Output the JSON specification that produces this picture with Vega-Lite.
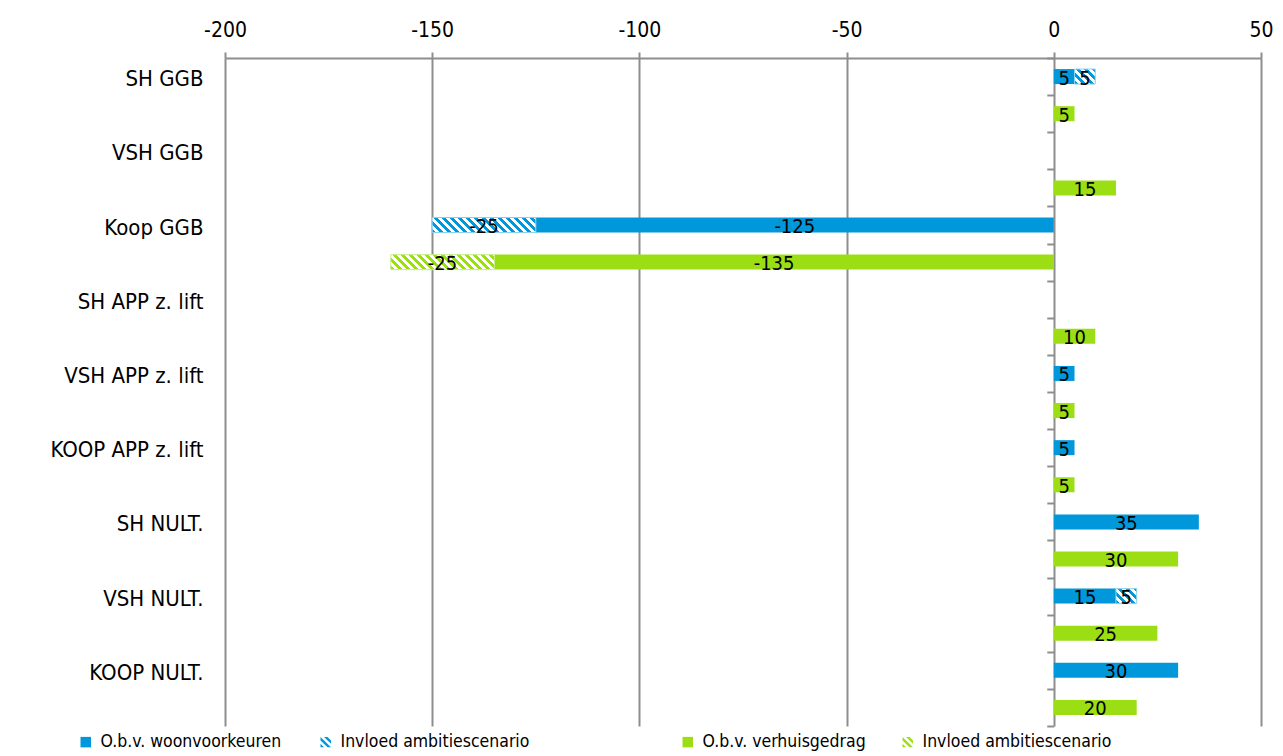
{
  "$schema": "https://vega.github.io/schema/vega-lite/v6.json",
  "width": 1036,
  "height": 668,
  "autosize": "none",
  "padding": {"left": 225, "top": 58, "right": 22, "bottom": 30},
  "background": "white",
  "config": {
    "font": "DejaVu Sans Condensed, Liberation Sans Narrow, sans-serif",
    "view": {"stroke": null}
  },
  "data": {
    "values": [
      {"rij": "SH GGB|W", "groep": "W", "deel": "basis", "reeks": "O.b.v. woonvoorkeuren", "waarde": 5},
      {"rij": "SH GGB|W", "groep": "W", "deel": "invloed", "reeks": "Invloed ambitiescenario", "waarde": 5},
      {"rij": "SH GGB|V", "groep": "V", "deel": "basis", "reeks": "O.b.v. verhuisgedrag", "waarde": 5},
      {"rij": "VSH GGB|V", "groep": "V", "deel": "basis", "reeks": "O.b.v. verhuisgedrag", "waarde": 15},
      {"rij": "Koop GGB|W", "groep": "W", "deel": "basis", "reeks": "O.b.v. woonvoorkeuren", "waarde": -125},
      {"rij": "Koop GGB|W", "groep": "W", "deel": "invloed", "reeks": "Invloed ambitiescenario", "waarde": -25},
      {"rij": "Koop GGB|V", "groep": "V", "deel": "basis", "reeks": "O.b.v. verhuisgedrag", "waarde": -135},
      {"rij": "Koop GGB|V", "groep": "V", "deel": "invloed", "reeks": "Invloed ambitiescenario", "waarde": -25},
      {"rij": "SH APP z. lift|V", "groep": "V", "deel": "basis", "reeks": "O.b.v. verhuisgedrag", "waarde": 10},
      {"rij": "VSH APP z. lift|W", "groep": "W", "deel": "basis", "reeks": "O.b.v. woonvoorkeuren", "waarde": 5},
      {"rij": "VSH APP z. lift|V", "groep": "V", "deel": "basis", "reeks": "O.b.v. verhuisgedrag", "waarde": 5},
      {"rij": "KOOP APP z. lift|W", "groep": "W", "deel": "basis", "reeks": "O.b.v. woonvoorkeuren", "waarde": 5},
      {"rij": "KOOP APP z. lift|V", "groep": "V", "deel": "basis", "reeks": "O.b.v. verhuisgedrag", "waarde": 5},
      {"rij": "SH NULT.|W", "groep": "W", "deel": "basis", "reeks": "O.b.v. woonvoorkeuren", "waarde": 35},
      {"rij": "SH NULT.|V", "groep": "V", "deel": "basis", "reeks": "O.b.v. verhuisgedrag", "waarde": 30},
      {"rij": "VSH NULT.|W", "groep": "W", "deel": "basis", "reeks": "O.b.v. woonvoorkeuren", "waarde": 15},
      {"rij": "VSH NULT.|W", "groep": "W", "deel": "invloed", "reeks": "Invloed ambitiescenario", "waarde": 5},
      {"rij": "VSH NULT.|V", "groep": "V", "deel": "basis", "reeks": "O.b.v. verhuisgedrag", "waarde": 25},
      {"rij": "KOOP NULT.|W", "groep": "W", "deel": "basis", "reeks": "O.b.v. woonvoorkeuren", "waarde": 30},
      {"rij": "KOOP NULT.|V", "groep": "V", "deel": "basis", "reeks": "O.b.v. verhuisgedrag", "waarde": 20}
    ]
  },
  "transform": [
    {"stack": "waarde", "groupby": ["rij"], "sort": [{"field": "deel", "order": "ascending"}], "as": ["x0", "x1"]}
  ],
  "encoding": {
    "x": {
      "field": "x0",
      "type": "quantitative",
      "scale": {"domain": [-200, 50], "nice": false, "zero": false},
      "axis": {
        "orient": "top",
        "values": [-200, -150, -100, -50, 0, 50],
        "labelExpr": "'' + datum.value",
        "title": null,
        "grid": true,
        "gridColor": "#8e8e8e",
        "gridWidth": 2,
        "domain": true,
        "domainColor": "#8e8e8e",
        "domainWidth": 2,
        "ticks": true,
        "tickColor": "#8e8e8e",
        "tickWidth": 2,
        "tickSize": 6,
        "labelFontSize": 21,
        "labelColor": "#000000",
        "labelPadding": 12,
        "labelFlush": false,
        "labelOverlap": false
      }
    },
    "x2": {"field": "x1"},
    "y": {
      "field": "rij",
      "type": "nominal",
      "scale": {
        "domain": [
          "SH GGB|W", "SH GGB|V", "VSH GGB|W", "VSH GGB|V", "Koop GGB|W", "Koop GGB|V",
          "SH APP z. lift|W", "SH APP z. lift|V", "VSH APP z. lift|W", "VSH APP z. lift|V",
          "KOOP APP z. lift|W", "KOOP APP z. lift|V", "SH NULT.|W", "SH NULT.|V",
          "VSH NULT.|W", "VSH NULT.|V", "KOOP NULT.|W", "KOOP NULT.|V"
        ],
        "paddingInner": 0,
        "paddingOuter": 0
      },
      "axis": {
        "orient": "left",
        "offset": -828.8,
        "title": null,
        "grid": false,
        "domain": false,
        "ticks": true,
        "tickBand": "extent",
        "tickColor": "#8e8e8e",
        "tickWidth": 2,
        "tickSize": 7,
        "labelPadding": 843.8,
        "labelFontSize": 22,
        "labelColor": "#000000",
        "labelOffset": 2,
        "labelLimit": 400,
        "labelExpr": "split(datum.value, '|')[1] == 'W' ? split(datum.value, '|')[0] : ''"
      }
    }
  },
  "layer": [
    {
      "transform": [{"filter": "datum.groep == 'W' && datum.deel == 'basis'"}],
      "mark": {"type": "bar", "size": 15},
      "encoding": {
        "color": {
          "field": "reeks",
          "type": "nominal",
          "scale": {"domain": ["O.b.v. woonvoorkeuren", "Invloed ambitiescenario"], "range": ["#0098da", "#0098da"]},
          "legend": {
            "orient": "none",
            "legendX": -148,
            "legendY": 675,
            "direction": "horizontal",
            "columns": 2,
            "columnPadding": 35,
            "padding": 0,
            "title": null,
            "symbolType": "square",
            "symbolSize": 110,
            "symbolStrokeWidth": 0,
            "labelFontSize": 17.5,
            "labelColor": "#000000",
            "labelOffset": 6,
            "labelLimit": 400,
            "encode": {
              "symbols": {
                "update": {
                  "shape": {"signal": "datum.value == 'Invloed ambitiescenario' ? 'M-1,1L-1,0.333L-0.333,1Z M-1,-0.333L-1,-1L1,1L0.333,1Z M-0.333,-1L0.333,-1L1,-0.333L1,0.333Z' : 'square'"}
                }
              }
            }
          }
        }
      }
    },
    {
      "transform": [{"filter": "datum.groep == 'V' && datum.deel == 'basis'"}],
      "mark": {"type": "bar", "size": 15},
      "encoding": {
        "color": {
          "field": "reeks",
          "type": "nominal",
          "scale": {"domain": ["O.b.v. verhuisgedrag", "Invloed ambitiescenario"], "range": ["#9bde14", "#9bde14"]},
          "legend": {
            "orient": "none",
            "legendX": 454,
            "legendY": 675,
            "direction": "horizontal",
            "columns": 2,
            "columnPadding": 33,
            "padding": 0,
            "title": null,
            "symbolType": "square",
            "symbolSize": 110,
            "symbolStrokeWidth": 0,
            "labelFontSize": 17.5,
            "labelColor": "#000000",
            "labelOffset": 6,
            "labelLimit": 400,
            "encode": {
              "symbols": {
                "update": {
                  "shape": {"signal": "datum.value == 'Invloed ambitiescenario' ? 'M-1,1L-1,0.333L-0.333,1Z M-1,-0.333L-1,-1L1,1L0.333,1Z M-0.333,-1L0.333,-1L1,-0.333L1,0.333Z' : 'square'"}
                }
              }
            }
          }
        }
      }
    },
    {
      "transform": [{"filter": "datum.groep == 'W' && datum.deel == 'invloed' && datum.waarde > 0"}],
      "mark": {
        "type": "bar",
        "size": 15,
        "stroke": "#8fd0f0",
        "strokeWidth": 1,
        "fill": {
          "gradient": "linear", "x1": 0, "y1": 1, "x2": 1.13, "y2": 0.179,
          "stops": [
            {"offset": 0, "color": "#0098da"}, {"offset": 0.1122, "color": "#0098da"},
            {"offset": 0.1122, "color": "#ffffff"}, {"offset": 0.2244, "color": "#ffffff"},
            {"offset": 0.2244, "color": "#0098da"}, {"offset": 0.3366, "color": "#0098da"},
            {"offset": 0.3366, "color": "#ffffff"}, {"offset": 0.4487, "color": "#ffffff"},
            {"offset": 0.4487, "color": "#0098da"}, {"offset": 0.5609, "color": "#0098da"},
            {"offset": 0.5609, "color": "#ffffff"}, {"offset": 0.6731, "color": "#ffffff"},
            {"offset": 0.6731, "color": "#0098da"}, {"offset": 0.7853, "color": "#0098da"},
            {"offset": 0.7853, "color": "#ffffff"}, {"offset": 0.8975, "color": "#ffffff"},
            {"offset": 0.8975, "color": "#0098da"}, {"offset": 1, "color": "#0098da"}
          ]
        }
      }
    },
    {
      "transform": [{"filter": "datum.groep == 'W' && datum.deel == 'invloed' && datum.waarde < 0"}],
      "mark": {
        "type": "bar",
        "size": 15,
        "stroke": "#8fd0f0",
        "strokeWidth": 1,
        "fill": {
          "gradient": "linear", "x1": 0, "y1": 1, "x2": 1.1216, "y2": 0.8371,
          "stops": [
            {"offset": 0, "color": "#0098da"},
            {"offset": 0.0338, "color": "#0098da"}, {"offset": 0.0338, "color": "#ffffff"},
            {"offset": 0.0676, "color": "#ffffff"}, {"offset": 0.0676, "color": "#0098da"},
            {"offset": 0.1014, "color": "#0098da"}, {"offset": 0.1014, "color": "#ffffff"},
            {"offset": 0.1352, "color": "#ffffff"}, {"offset": 0.1352, "color": "#0098da"},
            {"offset": 0.1691, "color": "#0098da"}, {"offset": 0.1691, "color": "#ffffff"},
            {"offset": 0.2029, "color": "#ffffff"}, {"offset": 0.2029, "color": "#0098da"},
            {"offset": 0.2367, "color": "#0098da"}, {"offset": 0.2367, "color": "#ffffff"},
            {"offset": 0.2705, "color": "#ffffff"}, {"offset": 0.2705, "color": "#0098da"},
            {"offset": 0.3043, "color": "#0098da"}, {"offset": 0.3043, "color": "#ffffff"},
            {"offset": 0.3381, "color": "#ffffff"}, {"offset": 0.3381, "color": "#0098da"},
            {"offset": 0.3719, "color": "#0098da"}, {"offset": 0.3719, "color": "#ffffff"},
            {"offset": 0.4057, "color": "#ffffff"}, {"offset": 0.4057, "color": "#0098da"},
            {"offset": 0.4395, "color": "#0098da"}, {"offset": 0.4395, "color": "#ffffff"},
            {"offset": 0.4733, "color": "#ffffff"}, {"offset": 0.4733, "color": "#0098da"},
            {"offset": 0.5072, "color": "#0098da"}, {"offset": 0.5072, "color": "#ffffff"},
            {"offset": 0.541, "color": "#ffffff"}, {"offset": 0.541, "color": "#0098da"},
            {"offset": 0.5748, "color": "#0098da"}, {"offset": 0.5748, "color": "#ffffff"},
            {"offset": 0.6086, "color": "#ffffff"}, {"offset": 0.6086, "color": "#0098da"},
            {"offset": 0.6424, "color": "#0098da"}, {"offset": 0.6424, "color": "#ffffff"},
            {"offset": 0.6762, "color": "#ffffff"}, {"offset": 0.6762, "color": "#0098da"},
            {"offset": 0.71, "color": "#0098da"}, {"offset": 0.71, "color": "#ffffff"},
            {"offset": 0.7438, "color": "#ffffff"}, {"offset": 0.7438, "color": "#0098da"},
            {"offset": 0.7776, "color": "#0098da"}, {"offset": 0.7776, "color": "#ffffff"},
            {"offset": 0.8114, "color": "#ffffff"}, {"offset": 0.8114, "color": "#0098da"},
            {"offset": 0.8453, "color": "#0098da"}, {"offset": 0.8453, "color": "#ffffff"},
            {"offset": 0.8791, "color": "#ffffff"}, {"offset": 0.8791, "color": "#0098da"},
            {"offset": 0.9129, "color": "#0098da"}, {"offset": 0.9129, "color": "#ffffff"},
            {"offset": 0.9467, "color": "#ffffff"}, {"offset": 0.9467, "color": "#0098da"},
            {"offset": 0.9805, "color": "#0098da"}, {"offset": 0.9805, "color": "#ffffff"},
            {"offset": 1, "color": "#ffffff"}
          ]
        }
      }
    },
    {
      "transform": [{"filter": "datum.groep == 'V' && datum.deel == 'invloed'"}],
      "mark": {
        "type": "bar",
        "size": 15,
        "stroke": "#c9ef8c",
        "strokeWidth": 1,
        "fill": {
          "gradient": "linear", "x1": 0, "y1": 1, "x2": 1.1216, "y2": 0.8371,
          "stops": [
            {"offset": 0, "color": "#9bde14"},
            {"offset": 0.0338, "color": "#9bde14"}, {"offset": 0.0338, "color": "#ffffff"},
            {"offset": 0.0676, "color": "#ffffff"}, {"offset": 0.0676, "color": "#9bde14"},
            {"offset": 0.1014, "color": "#9bde14"}, {"offset": 0.1014, "color": "#ffffff"},
            {"offset": 0.1352, "color": "#ffffff"}, {"offset": 0.1352, "color": "#9bde14"},
            {"offset": 0.1691, "color": "#9bde14"}, {"offset": 0.1691, "color": "#ffffff"},
            {"offset": 0.2029, "color": "#ffffff"}, {"offset": 0.2029, "color": "#9bde14"},
            {"offset": 0.2367, "color": "#9bde14"}, {"offset": 0.2367, "color": "#ffffff"},
            {"offset": 0.2705, "color": "#ffffff"}, {"offset": 0.2705, "color": "#9bde14"},
            {"offset": 0.3043, "color": "#9bde14"}, {"offset": 0.3043, "color": "#ffffff"},
            {"offset": 0.3381, "color": "#ffffff"}, {"offset": 0.3381, "color": "#9bde14"},
            {"offset": 0.3719, "color": "#9bde14"}, {"offset": 0.3719, "color": "#ffffff"},
            {"offset": 0.4057, "color": "#ffffff"}, {"offset": 0.4057, "color": "#9bde14"},
            {"offset": 0.4395, "color": "#9bde14"}, {"offset": 0.4395, "color": "#ffffff"},
            {"offset": 0.4733, "color": "#ffffff"}, {"offset": 0.4733, "color": "#9bde14"},
            {"offset": 0.5072, "color": "#9bde14"}, {"offset": 0.5072, "color": "#ffffff"},
            {"offset": 0.541, "color": "#ffffff"}, {"offset": 0.541, "color": "#9bde14"},
            {"offset": 0.5748, "color": "#9bde14"}, {"offset": 0.5748, "color": "#ffffff"},
            {"offset": 0.6086, "color": "#ffffff"}, {"offset": 0.6086, "color": "#9bde14"},
            {"offset": 0.6424, "color": "#9bde14"}, {"offset": 0.6424, "color": "#ffffff"},
            {"offset": 0.6762, "color": "#ffffff"}, {"offset": 0.6762, "color": "#9bde14"},
            {"offset": 0.71, "color": "#9bde14"}, {"offset": 0.71, "color": "#ffffff"},
            {"offset": 0.7438, "color": "#ffffff"}, {"offset": 0.7438, "color": "#9bde14"},
            {"offset": 0.7776, "color": "#9bde14"}, {"offset": 0.7776, "color": "#ffffff"},
            {"offset": 0.8114, "color": "#ffffff"}, {"offset": 0.8114, "color": "#9bde14"},
            {"offset": 0.8453, "color": "#9bde14"}, {"offset": 0.8453, "color": "#ffffff"},
            {"offset": 0.8791, "color": "#ffffff"}, {"offset": 0.8791, "color": "#9bde14"},
            {"offset": 0.9129, "color": "#9bde14"}, {"offset": 0.9129, "color": "#ffffff"},
            {"offset": 0.9467, "color": "#ffffff"}, {"offset": 0.9467, "color": "#9bde14"},
            {"offset": 0.9805, "color": "#9bde14"}, {"offset": 0.9805, "color": "#ffffff"},
            {"offset": 1, "color": "#ffffff"}
          ]
        }
      }
    },
    {
      "transform": [
        {"fold": ["x0", "x1"], "as": ["rand", "pos"]},
        {"aggregate": [{"op": "mean", "field": "pos", "as": "x0"}], "groupby": ["rij", "deel", "waarde"]}
      ],
      "mark": {"type": "text", "fontSize": 20, "color": "#000000", "align": "center", "baseline": "middle", "dy": 2},
      "encoding": {
        "text": {"field": "waarde", "type": "nominal"}
      }
    }
  ],
  "resolve": {"scale": {"color": "independent"}}
}
